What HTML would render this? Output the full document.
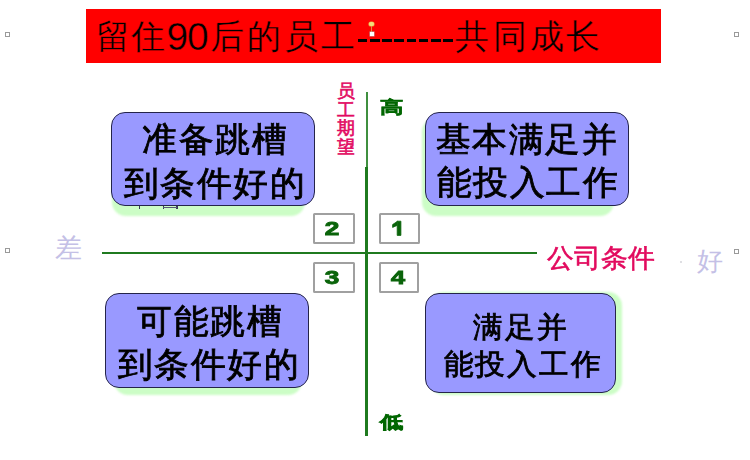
<!DOCTYPE html>
<html><head><meta charset="utf-8">
<style>
html,body{margin:0;padding:0;background:#fff;}
body{width:750px;height:460px;position:relative;overflow:hidden;font-family:"Liberation Sans",sans-serif;}
.a{position:absolute;}
.t{position:absolute;white-space:nowrap;line-height:1;}
.title{position:absolute;left:85.5px;top:9px;width:575.5px;height:53.5px;background:#ff0000;}
.c{position:absolute;top:19px;width:40px;text-align:center;font-size:34px;line-height:34px;color:#000;-webkit-text-stroke:0.35px #ff0000;}
.sq{position:absolute;width:3px;height:3px;border:1px solid #9a9a9a;background:#fff;}
.box{position:absolute;background:#9999ff;border:1.6px solid #24244a;border-radius:14px;box-sizing:border-box;}
.sh{position:absolute;background:#ccfdc6;border-radius:14px;filter:blur(1px);}
.nb{position:absolute;box-sizing:border-box;border:2.2px solid #a0a0a0;background:#fff;border-radius:1.5px;}
.dg{position:absolute;color:#0a640a;font-weight:bold;font-size:18px;line-height:1;-webkit-text-stroke:0.9px #0a640a;}
.ln{position:absolute;width:300px;text-align:center;white-space:nowrap;line-height:1;color:#000;font-size:36.2px;-webkit-text-stroke:0.9px #000;transform:scale(0.95,0.93);letter-spacing:2.5px;text-indent:2.5px;}
</style></head><body>
<div class="title"></div>
<div class="c" style="left:93.00px;">留</div>
<div class="c" style="left:128.35px;">住</div>
<div class="t" style="left:166.5px;top:16.9px;font-size:39px;color:#000;-webkit-text-stroke:0.45px #ff0000;letter-spacing:-1.3px;">90</div>
<div class="c" style="left:206.60px;">后</div>
<div class="c" style="left:244.45px;">的</div>
<div class="c" style="left:280.50px;">员</div>
<div class="c" style="left:317.85px;">工</div>
<div class="c" style="left:452.15px;">共</div>
<div class="c" style="left:490.00px;">同</div>
<div class="c" style="left:526.60px;">成</div>
<div class="c" style="left:562.60px;">长</div>
<div class="a" style="left:357.8px;top:39px;width:9.6px;height:3.2px;background:#000;"></div>
<div class="a" style="left:370.0px;top:39px;width:9.6px;height:3.2px;background:#000;"></div>
<div class="a" style="left:382.2px;top:39px;width:9.6px;height:3.2px;background:#000;"></div>
<div class="a" style="left:394.4px;top:39px;width:9.6px;height:3.2px;background:#000;"></div>
<div class="a" style="left:406.6px;top:39px;width:9.6px;height:3.2px;background:#000;"></div>
<div class="a" style="left:418.8px;top:39px;width:9.6px;height:3.2px;background:#000;"></div>
<div class="a" style="left:431.0px;top:39px;width:9.6px;height:3.2px;background:#000;"></div>
<div class="a" style="left:443.2px;top:39px;width:9.6px;height:3.2px;background:#000;"></div>
<!-- rotation handle -->
<div class="a" style="left:371.2px;top:25px;width:0.8px;height:7px;background:#e08a3a;"></div>
<div class="a" style="left:369.3px;top:21.5px;width:4.6px;height:4.6px;border-radius:50%;background:#f4e07a;box-shadow:0 0 0 0.6px #e8a040;"></div>
<div class="a" style="left:370.2px;top:32.2px;width:3.6px;height:3.6px;background:#fff;box-shadow:0 0 0 0.5px #b0b0b0;"></div>

<div class="sq" style="left:5px;top:32px;"></div>
<div class="sq" style="left:734px;top:32px;"></div>
<div class="sq" style="left:5px;top:248px;"></div>
<div class="sq" style="left:734px;top:249px;"></div>

<!-- axes -->
<div class="a" style="left:366.3px;top:91.5px;width:1.9px;height:76px;background:#3f8f3f;"></div>
<div class="a" style="left:365.2px;top:167px;width:3px;height:269px;background:#1f7a1f;"></div>
<div class="a" style="left:101.5px;top:251.5px;width:435px;height:2.5px;background:#1f7a1f;"></div>

<!-- shadows -->
<div class="sh" style="left:111.5px;top:125px;width:193.5px;height:90.5px;"></div>
<div class="sh" style="left:421.5px;top:118px;width:192.5px;height:97.5px;"></div>
<div class="sh" style="left:114px;top:305px;width:188px;height:90px;"></div>
<div class="sh" style="left:430px;top:291.5px;width:192px;height:103.5px;"></div>

<div class="a" style="left:138.5px;top:205px;width:1.6px;height:4px;background:#3a3a5a;"></div>
<div class="a" style="left:162.5px;top:205px;width:1.6px;height:4px;background:#3a3a5a;"></div>
<div class="a" style="left:176.2px;top:205px;width:1.6px;height:4px;background:#3a3a5a;"></div>
<div class="a" style="left:163px;top:207.2px;width:14px;height:1.2px;background:#5a5a7a;"></div>
<!-- boxes -->
<div class="box" style="left:110.8px;top:111.65px;width:204.4px;height:94.35px;"></div>
<div class="box" style="left:424.8px;top:111.65px;width:204.4px;height:94.35px;"></div>
<div class="box" style="left:104.8px;top:293.4px;width:203.9px;height:94.6px;"></div>
<div class="box" style="left:424.8px;top:293.3px;width:191.4px;height:99.5px;"></div>

<div class="ln" style="left:63.7px;top:121.8px;">准备跳槽</div>
<div class="ln" style="left:63.8px;top:166.3px;">到条件好的</div>
<div class="ln" style="left:376.1px;top:122.1px;">基本满足并</div>
<div class="ln" style="left:376.8px;top:165.15px;">能投入工作</div>
<div class="ln" style="left:59.2px;top:303.8px;">可能跳槽</div>
<div class="ln" style="left:57.9px;top:347px;">到条件好的</div>
<div class="ln" style="left:370px;top:311.6px;font-size:31px;">满足并</div>
<div class="ln" style="left:371.6px;top:348.7px;font-size:31px;">能投入工作</div>

<!-- number boxes -->
<div class="nb" style="left:313.4px;top:212.8px;width:41.4px;height:31.1px;"></div>
<div class="nb" style="left:378.8px;top:213px;width:41px;height:30.9px;"></div>
<div class="nb" style="left:313.4px;top:261.8px;width:41.6px;height:31.1px;"></div>
<div class="nb" style="left:378.7px;top:261.8px;width:40.8px;height:31.1px;"></div>
<div class="dg" style="left:326.6px;top:220px;transform:scaleX(1.45);">2</div>
<svg class="a" style="left:390px;top:219px;" width="14" height="19" viewBox="0 0 14 19"><path d="M7.2 2.2 L10.9 2.2 L10.9 16.4 L7.2 16.4 Z M7.6 2.2 L2.6 5.6 L2.6 8.4 L7.6 6.2 Z" fill="#0a640a" stroke="#0a640a" stroke-width="0.8" stroke-linejoin="round"/></svg>
<div class="dg" style="left:326.6px;top:269px;transform:scaleX(1.45);">3</div>
<div class="dg" style="left:393.3px;top:269px;transform:scaleX(1.4);">4</div>

<div class="a" style="left:680px;top:261px;width:1.5px;height:2px;background:#b8b8c0;opacity:.45;"></div>
<!-- labels -->
<div class="t" style="left:337px;top:82px;font-size:18px;line-height:18.5px;color:#e20a62;width:18px;white-space:normal;-webkit-text-stroke:0.6px #e20a62;">员工期望</div>
<div class="t" style="left:380.5px;top:96.5px;font-size:22px;font-weight:900;color:#006600;transform:scale(1.05,0.76);-webkit-text-stroke:0.6px #006600;">高</div>
<div class="t" style="left:380.5px;top:412px;font-size:22px;font-weight:900;color:#006600;transform:scale(1.06,0.78);-webkit-text-stroke:1px #006600;">低</div>
<div class="t" style="left:547px;top:244.8px;font-size:27px;color:#e20a5e;-webkit-text-stroke:0.6px #e20a5e;transform:scaleY(0.97);transform-origin:0 100%;">公司条件</div>
<div class="t" style="left:55.2px;top:235.4px;font-size:26.6px;color:#c4c0e6;">差</div>
<div class="t" style="left:696.8px;top:248.3px;font-size:26.2px;color:#c4c0e6;">好</div>
</body></html>
